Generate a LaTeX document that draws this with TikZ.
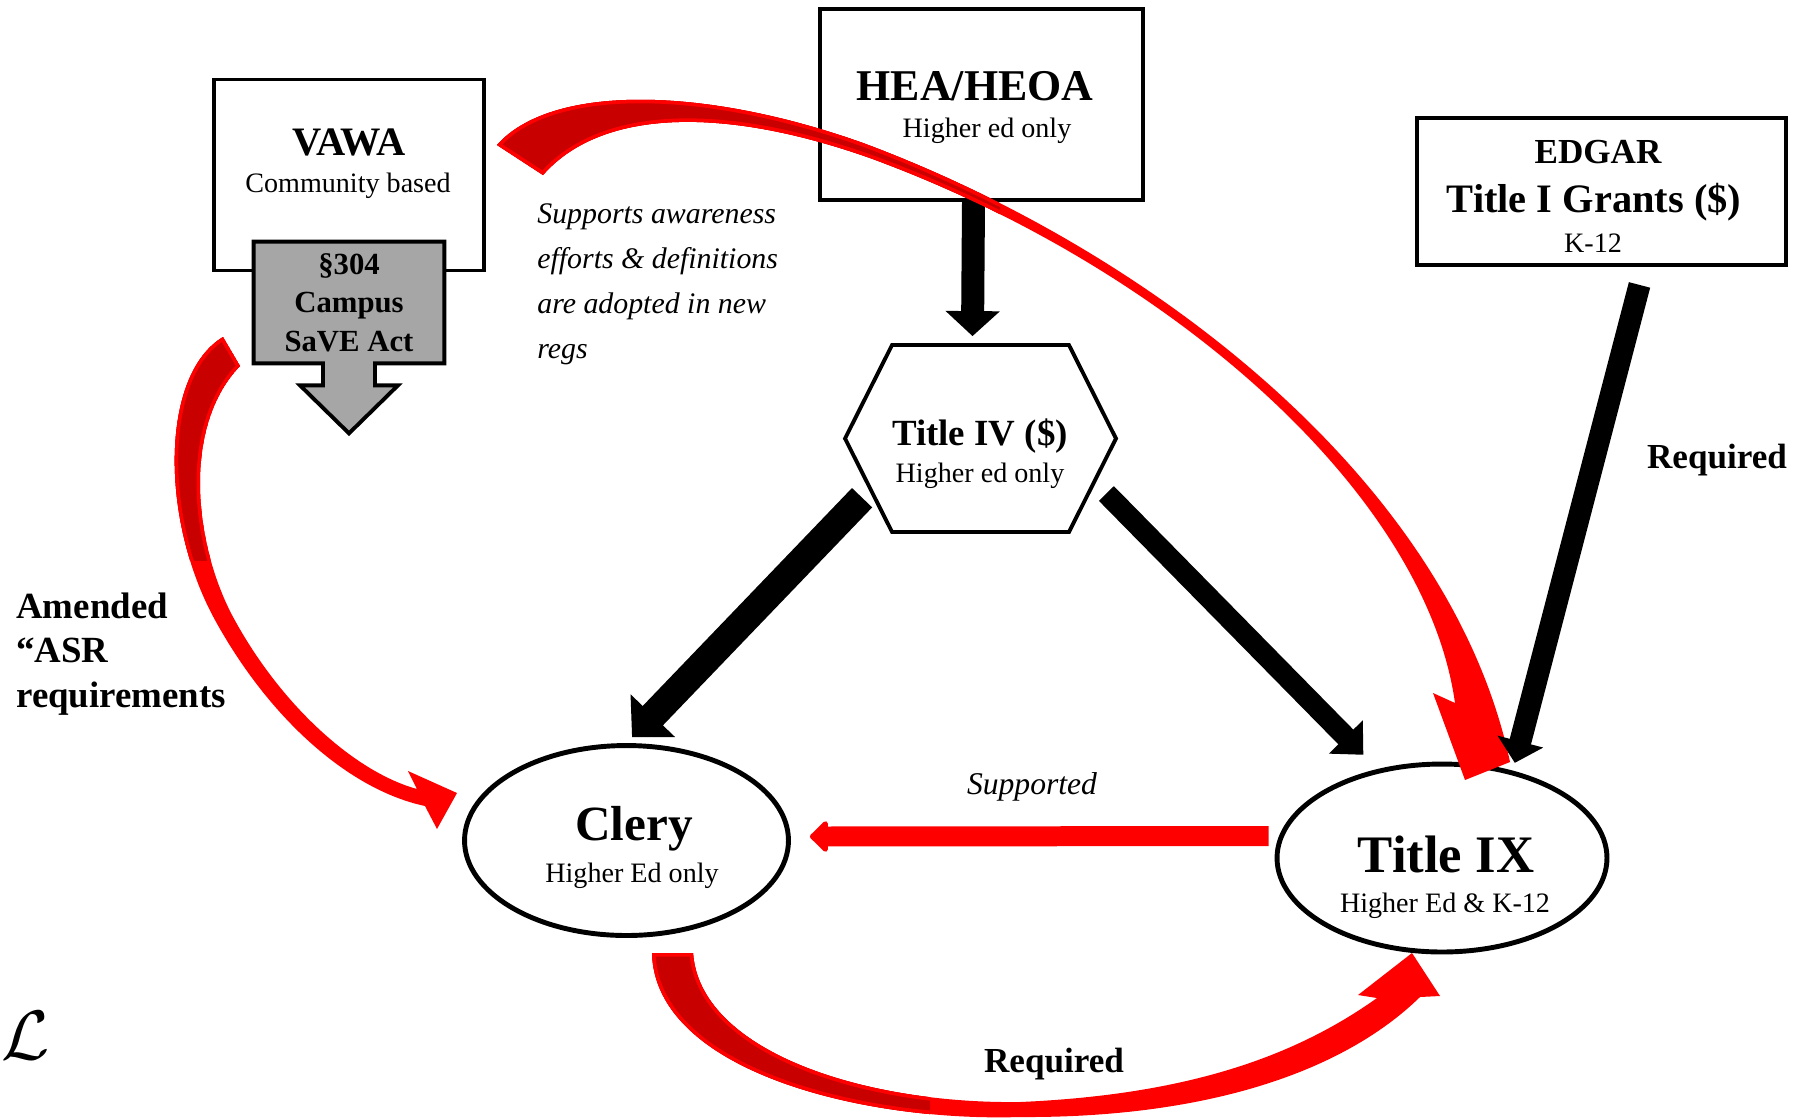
\documentclass[tikz,border=0pt]{standalone}
\usepackage{fontspec}
\setmainfont{Liberation Serif}
\usetikzlibrary{shapes.geometric, shapes.symbols, arrows.meta, positioning, calc}
\definecolor{brightred}{HTML}{FF0000}
\definecolor{deepred}{HTML}{C80000}
\definecolor{savegray}{HTML}{A6A6A6}

% outlines of the curved red arrows (pixel grid, y pointing down)
\newcommand{\vawacurve}{(497,145) .. controls (550,85) and (700,85) .. (863,143)
    .. controls (1150,250) and (1450,480) .. (1510,762) -- (1465,780) -- (1433,693) -- (1455,703)
    .. controls (1425,490) and (1165,266) .. (870,158) .. controls (720,105) and (600,110) .. (543,175) -- cycle}
\newcommand{\asrcurve}{(223,337) .. controls (160,375) and (160,520) .. (215,620)
    .. controls (270,720) and (350,790) .. (425,806) -- (437,829) -- (457,793) -- (408,771) -- (417,789)
    .. controls (355,772) and (280,705) .. (232,615) .. controls (193,540) and (183,425) .. (240,366) -- cycle}
\newcommand{\reqcurve}{(652,953) .. controls (655,1070) and (860,1122) .. (1020,1117)
    .. controls (1200,1118) and (1340,1075) .. (1420,997) -- (1440,996) -- (1412,953) -- (1358,995) -- (1377,998)
    .. controls (1290,1060) and (1180,1095) .. (1020,1102) .. controls (860,1104) and (700,1050) .. (693,953) -- cycle}

\begin{document}
\begin{tikzpicture}[
        x=0.02cm, y=-0.02cm,
        box/.style={draw, line width=2.2pt, fill=white, inner sep=0pt},
        oval/.style={draw, ellipse, line width=2.8pt, fill=white, inner sep=0pt},
        hexa/.style={draw, signal, signal to=east and west, signal pointer angle=126.6,
            line width=2.2pt, fill=white, inner sep=0pt},
        grayarrow/.style={draw, fill=savegray, line width=2.2pt, line join=miter},
        lead/.style={font=\bfseries\fontsize{#1}{#1}\selectfont, anchor=base, inner sep=0pt},
        note/.style={font=\fontsize{16}{16}\selectfont, anchor=base, inner sep=0pt},
        remark/.style={font=\itshape\fontsize{#1}{#1}\selectfont, anchor=base, inner sep=0pt},
        block/.style n args={3}{draw=black, line width=#1, -{Triangle[width=#2, length=#3]}},
        supportline/.style={draw=brightred, line width=0.4cm, -{Triangle[width=0.72cm, length=0.38cm, round]}}
    ]
    \useasboundingbox (0,0) rectangle (1797,1117);

    % VAWA with the Campus SaVE Act callout
    \node[box, minimum width=5.4cm, minimum height=3.82cm] (vawa) at (349,175) {};
    \node[inner sep=0pt, minimum width=3.8cm, minimum height=2.42cm] (save) at (349,302.5) {};
    \draw[grayarrow] (save.north west) -- (save.north east) -- (save.south east)
        -- ($(save.south)+(26,0)$) -- ++(0,22) -- ++(23,0) -- ($(save.south)+(0,70)$)
        -- ($(save.south)+(-49,22)$) -- ++(23,0) -- ($(save.south)+(-26,0)$) -- (save.south west) -- cycle;
    \node[align=center, inner sep=0pt, font=\bfseries\fontsize{17.5}{22}\selectfont] (savetext) at (save) {§304\\Campus\\SaVE Act};

    % Nodes
    \node[box, minimum width=6.46cm, minimum height=3.82cm] (hea) at (981.5,104.5) {};
    \node[box, minimum width=7.38cm, minimum height=2.94cm] (edgar) at (1601.5,191.5) {};
    \node[hexa, minimum width=5.42cm, minimum height=3.74cm] (title4) at (980.5,438.5) {};
    \node[oval, minimum width=6.48cm, minimum height=3.8cm] (clery) at (626.5,840.5) {};
    \node[oval, minimum width=6.6cm, minimum height=3.76cm] (title9) at (1442,858) {};

    % Texts
    \node[lead=23] (vawaname) at (349,155) {VAWA};
    \node[note] (vawanote) at (348,192) {Community based};
    \node[lead=25] (heaname) at (975,100) {HEA/HEOA};
    \node[note] (heanote) at (987,137) {Higher ed only};
    \node[lead=21] (title4name) at (980,445) {Title IV (\$)};
    \node[note] (title4note) at (980,482) {Higher ed only};
    \node[lead=20] (edgarname) at (1598,163) {EDGAR};
    \node[lead=23] (grantsname) at (1594,212) {Title I Grants (\$)};
    \node[note] (edgarnote) at (1593,252) {K-12};
    \node[lead=28] (cleryname) at (634,840) {Clery};
    \node[note] (clerynote) at (632,882) {Higher Ed only};
    \node[lead=30] (title9name) at (1446,872) {Title IX};
    \node[note] (title9note) at (1445,912) {Higher Ed \& K-12};
    \foreach \row [count=\i] in {Supports awareness, efforts \& definitions, are adopted in new, regs}
        \node[remark=17, anchor=base west] (supports\i) at (537,{223+45*(\i-1)}) {\row};
    \foreach \row [count=\i] in {Amended, “ASR, requirements}
        \node[lead=21, anchor=base west] (amended\i) at (16,{618+44.5*(\i-1)}) {\row};
    \node[lead=20] (edgarreq) at (1717,468) {Required};
    \node[remark=18] (supported) at (1032,794) {Supported};
    \node[lead=20] (cleryreq) at (1054,1072) {Required};
    \node[scale=1.6] (script) at (26,1036) {\Huge$\mathcal{L}$};

    % HEA feeds Title IV
    \draw[block={0.46cm}{1.06cm}{0.5cm}] ($(hea.south)+(-8,0)$) -- ($(title4.north)+(-8,-7)$);

    % Red curved arrows
    \fill[brightred] \vawacurve;
    \begin{scope}
        \clip (0,0) rectangle (1000,1117);
        \clip \vawacurve;
        \fill[deepred] \vawacurve;
        \draw[brightred, line width=0.14cm] \vawacurve;
    \end{scope}
    \fill[brightred] \asrcurve;
    \begin{scope}
        \clip (0,0) rectangle (1797,560);
        \clip \asrcurve;
        \fill[deepred] \asrcurve;
        \draw[brightred, line width=0.14cm] \asrcurve;
    \end{scope}
    \fill[brightred] \reqcurve;
    \begin{scope}
        \clip (0,0) rectangle (930,1117);
        \clip \reqcurve;
        \fill[deepred] \reqcurve;
        \draw[brightred, line width=0.14cm] \reqcurve;
    \end{scope}
    \draw[supportline] ($(title9.west)+(-6,-22)$) -- ($(clery.east)+(19,-4)$);

    % Black arrows
    \draw[block={0.44cm}{0.92cm}{0.44cm}, shorten >=0.16cm] ($(edgar.south)+(38,18)$) -- (title9.51);
    \draw[block={0.56cm}{1.2cm}{0.6cm}, shorten <=0.2cm, shorten >=0.16cm] (title4.205) -- (clery.north);
    \draw[block={0.42cm}{0.92cm}{0.5cm}, shorten <=0.3cm, shorten >=0.4cm] (title4.339) -- (title9.126);
\end{tikzpicture}
\end{document}
